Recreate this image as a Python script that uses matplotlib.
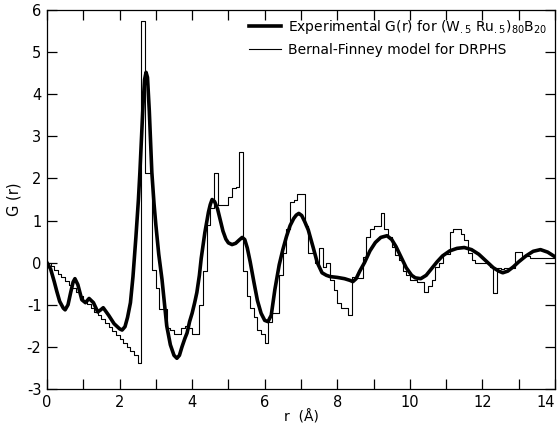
import numpy as np
import matplotlib
matplotlib.use('Agg')
import matplotlib.pyplot as plt

# Experimental reduced RDF, read as (r, G) pairs
r_exp = [0.0, 0.1, 0.2, 0.27, 0.35, 0.45, 0.5, 0.58, 0.65, 0.72, 0.77, 0.85, 0.96,
         1.06, 1.16, 1.28, 1.4, 1.48, 1.55, 1.7, 1.85, 2.0, 2.07, 2.15, 2.22, 2.3,
         2.37, 2.45, 2.52, 2.56, 2.6, 2.65, 2.69, 2.73, 2.77, 2.82, 2.89, 2.95, 3.0,
         3.08, 3.17, 3.24, 3.3, 3.4, 3.5, 3.58, 3.65, 3.72, 3.8, 3.86, 3.93, 4.0,
         4.07, 4.13, 4.2, 4.25, 4.3, 4.35, 4.4, 4.45, 4.5, 4.55, 4.62, 4.7, 4.78,
         4.85, 4.93, 5.0, 5.1, 5.2, 5.3, 5.38, 5.45, 5.52, 5.6, 5.7, 5.8, 5.9,
         6.0, 6.09, 6.18, 6.28, 6.4, 6.5, 6.6, 6.7, 6.8, 6.87, 6.94, 7.02, 7.1,
         7.2, 7.33, 7.45, 7.58, 7.7, 7.8, 8.0, 8.2, 8.35, 8.43, 8.52, 8.62, 8.75,
         8.9, 9.05, 9.2, 9.37, 9.5, 9.62, 9.75, 9.9, 10.05, 10.15, 10.3, 10.45,
         10.6, 10.75, 10.9, 11.1, 11.3, 11.5, 11.7, 11.9, 12.1, 12.3, 12.45, 12.56,
         12.7, 12.85, 13.0, 13.2, 13.4, 13.6, 13.8, 14.0]
g_exp = [0.0, -0.15, -0.45, -0.68, -0.92, -1.08, -1.12, -1.0, -0.72, -0.46, -0.38,
         -0.52, -0.88, -0.95, -0.85, -0.95, -1.17, -1.12, -1.07, -1.25, -1.45, -1.57,
         -1.6, -1.52, -1.3, -0.95, -0.33, 0.6, 1.5, 2.14, 2.9, 3.8, 4.35, 4.52, 4.4,
         3.6, 2.14, 1.4, 0.9, 0.2, -0.4, -1.0, -1.5, -1.95, -2.2, -2.27, -2.2, -2.0,
         -1.8, -1.67, -1.4, -1.2, -0.95, -0.71, -0.3, 0.1, 0.4, 0.71, 0.95, 1.2, 1.38,
         1.5, 1.45, 1.28, 1.0, 0.75, 0.56, 0.47, 0.43, 0.46, 0.54, 0.6, 0.55, 0.35,
         0.02, -0.45, -0.9, -1.2, -1.37, -1.4, -1.25, -0.64, -0.05, 0.31, 0.62, 0.88,
         1.05, 1.13, 1.17, 1.12, 0.98, 0.78, 0.38, 0.0, -0.24, -0.3, -0.33, -0.35,
         -0.38, -0.42, -0.45, -0.38, -0.2, 0.0, 0.28, 0.48, 0.6, 0.64, 0.55, 0.38,
         0.15, -0.12, -0.3, -0.36, -0.38, -0.3, -0.14, 0.02, 0.16, 0.28, 0.34, 0.36,
         0.31, 0.2, 0.04, -0.12, -0.2, -0.24, -0.2, -0.1, 0.02, 0.16, 0.27, 0.31,
         0.25, 0.14]

# Bernal-Finney DRPHS model, histogram in 0.1 A bins from r = 0 to 14
bin_width = 0.1
g_model = [
    0.0, -0.08, -0.17, -0.26, -0.35, -0.43, -0.52, -0.6, -0.7, -0.8,          # 0.0
    -0.9, -0.98, -1.07, -1.16, -1.25, -1.34, -1.44, -1.53, -1.62, -1.72,       # 1.0
    -1.81, -1.9, -2.0, -2.1, -2.2, -2.38, 5.75, 2.12, 2.12, -0.17,             # 2.0
    -0.6, -1.1, -1.1, -1.55, -1.6, -1.7, -1.7, -1.55, -1.5, -1.55,             # 3.0
    -1.7, -1.7, -1.0, -0.2, 0.9, 1.3, 2.14, 1.38, 1.38, 1.38,                  # 4.0
    1.57, 1.78, 1.8, 2.62, -0.2, -0.8, -1.07, -1.3, -1.6, -1.7,                # 5.0
    -1.9, -1.4, -1.2, -1.2, -0.3, 0.24, 0.79, 1.43, 1.5, 1.64,                 # 6.0
    1.64, 0.86, 0.24, 0.24, 0.0, 0.36, -0.1, 0.0, -0.4, -0.64,                 # 7.0
    -0.95, -1.07, -1.07, -1.24, -0.33, -0.36, -0.36, 0.14, 0.6, 0.79,          # 8.0
    0.86, 0.86, 1.19, 0.8, 0.6, 0.38, 0.19, 0.07, -0.2, -0.3,                  # 9.0
    -0.4, -0.4, -0.45, -0.45, -0.69, -0.55, -0.4, -0.1, 0.0, 0.2,              # 10.0
    0.2, 0.74, 0.79, 0.79, 0.67, 0.55, 0.24, 0.07, 0.0, 0.0,                   # 11.0
    0.0, 0.0, -0.1, -0.72, -0.12, -0.15, -0.12, -0.12, -0.12, 0.26,            # 12.0
    0.26, 0.15, 0.15, 0.1, 0.1, 0.1, 0.1, 0.1, 0.1, 0.1,                       # 13.0
]

x_ticks = np.arange(0, 15, 1)
x_ticklabels = ['0', '', '2', '', '4', '', '6', '', '8', '', '10', '', '12', '', '14']
y_ticks = np.arange(-3, 7, 1)

plt.rcParams['axes.unicode_minus'] = False
plt.rcParams['font.family'] = 'DejaVu Sans'

fig = plt.figure(figsize=(5.58, 4.28), dpi=100)
ax = fig.add_axes([0.0842, 0.0911, 0.9104, 0.8855])

edges = np.arange(len(g_model) + 1) * bin_width
model_y = np.append(g_model, g_model[-1])
ax.step(edges, model_y, where='post', color='black', lw=0.8,
        label='Bernal-Finney model for DRPHS')
ax.plot(r_exp, g_exp, color='black', lw=2.6, solid_joinstyle='round',
        label=r'Experimental G(r) for (W$_{.5}$ Ru$_{.5}$)$_{80}$B$_{20}$', zorder=3)

ax.set_xlim(0, 14)
ax.set_ylim(-3, 6)
ax.set_xticks(x_ticks)
ax.set_xticklabels(x_ticklabels)
ax.set_yticks(y_ticks)
ax.tick_params(direction='in', length=7, width=0.9, top=True, right=True,
               labelsize=10.5, pad=4)
# keep the last x label inside the figure edge
ax.get_xticklabels()[-1].set_horizontalalignment('right')
for s in ax.spines.values():
    s.set_linewidth(0.9)

ax.set_xlabel('r  (Å)', fontsize=10, labelpad=0)
ax.set_ylabel('G (r)', fontsize=10.5, labelpad=4)

handles, labels = ax.get_legend_handles_labels()
ax.legend(handles[::-1], labels[::-1], loc='upper right', frameon=False,
          fontsize=10, handlelength=2.3, handletextpad=0.5,
          borderaxespad=0.2, labelspacing=0.5, bbox_to_anchor=(1.0, 1.0))

fig.savefig('out.png', dpi=100)
